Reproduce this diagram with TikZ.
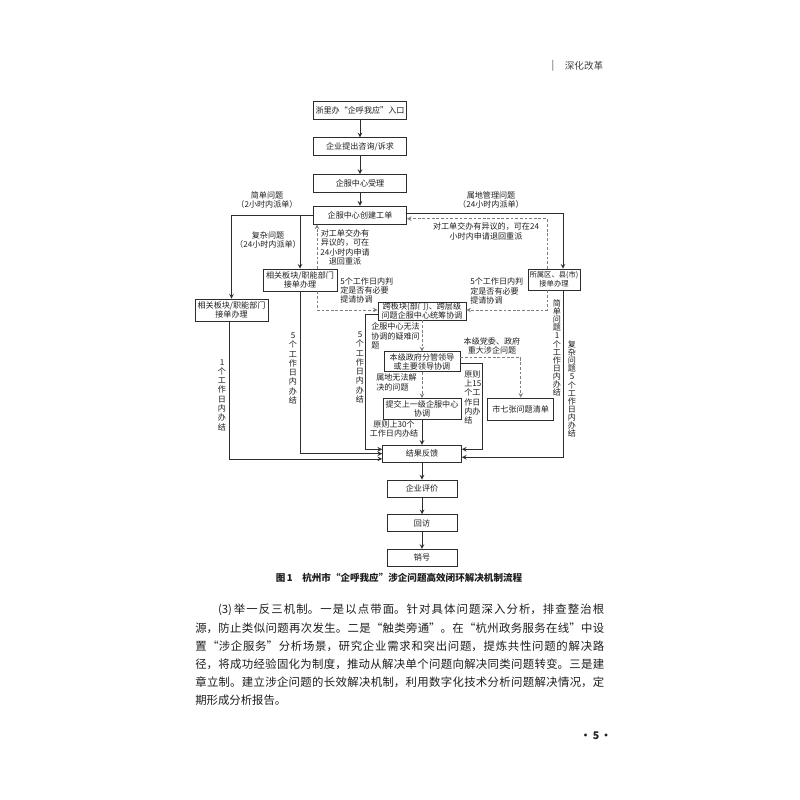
\documentclass[tikz,border=0pt]{standalone}
\usepackage{fontspec}
\setmainfont{Noto Sans CJK SC}
\usetikzlibrary{positioning}
\usepackage{xcolor}
\definecolor{linegray}{RGB}{45,45,45}
\definecolor{dashgray}{RGB}{125,125,125}
\definecolor{inkblack}{RGB}{30,30,30}
\XeTeXlinebreaklocale "zh"
\XeTeXlinebreakskip=0pt plus 1pt
\newcommand\flowfont{\fontsize{5.75pt}{6.6pt}\selectfont}
\newcommand\vertfont{\fontsize{5.75pt}{5.8pt}\selectfont}
\newcommand\bodyfont{\fontsize{8.1pt}{12.95pt}\selectfont}

\begin{document}
\begin{tikzpicture}[
    x=0.25mm, y=-0.25mm,
    box/.style={rectangle, draw=linegray, fill=white, line width=0.5pt,
                inner sep=0.5pt, align=center, font=\flowfont, text=inkblack},
    mainbox/.style={box, minimum width=23.25mm, minimum height=4.5mm},
    arrow/.style={->, >=stealth, line width=0.5pt, draw=linegray},
    dasharrow/.style={->, >=stealth, line width=0.5pt, draw=dashgray,
                      dash pattern=on 2pt off 1.3pt},
    note/.style={font=\flowfont, align=center, inner sep=0pt, text=inkblack},
    vnote/.style={note, font=\vertfont}
]
\useasboundingbox (0,0) rectangle (800,800);

% page head
\node[note, font=\fontsize{7pt}{8pt}\selectfont, text=black!70] (headbar) at (553,66) {|};
\node[note, font=\fontsize{6.8pt}{8pt}\selectfont, text=black!75] (headtitle) at (584,66) {深化改革};

% main column
\node[mainbox] (entry) at (360,110) {浙里办“企呼我应”入口};
\node[mainbox, below=4.5mm of entry] (ask) {企业提出咨询/诉求};
\node[mainbox, below=4.5mm of ask] (accept) {企服中心受理};
\node[mainbox, below=3.25mm of accept] (order) {企服中心创建工单};

\node[box, minimum width=18.25mm, minimum height=5.5mm] (deptB) at (231.5,310) {相关板块/职能部门\\接单办理};
\node[box, minimum width=18.5mm, minimum height=5.5mm] (deptA) at (300,280) {相关板块/职能部门\\接单办理};
\node[box, minimum width=13mm, minimum height=5.25mm, font=\fontsize{5.2pt}{6.6pt}\selectfont] (county) at (554,279.5) {所属区、县(市)\\接单办理};

\node[box, minimum width=22mm, minimum height=4.5mm] (cross) at (422,311) {跨板块(部门)、跨层级\\问题企服中心统筹协调};
\node[box, minimum width=19mm, minimum height=5mm, below=7.75mm of cross] (gov) {本级政府分管领导\\或主要领导协调};
\node[box, minimum width=19.5mm, minimum height=5.25mm, below=6.5mm of gov] (upper) {提交上一级企服中心\\协调};
\node[box, minimum width=16.5mm, minimum height=5.5mm, right=6.5mm of upper] (seven) {市七张问题清单};
\node[box, minimum width=19.75mm, minimum height=4.25mm, below=6.25mm of upper] (result) {结果反馈};
\node[box, minimum width=17.5mm, minimum height=4.25mm, below=4.25mm of result] (rate) {企业评价};
\node[box, minimum width=17.5mm, minimum height=4.25mm, below=4.25mm of rate] (revisit) {回访};
\node[box, minimum width=17.5mm, minimum height=4.25mm, below=4.25mm of revisit] (close) {销号};

% labels
\node[note] (lsimple) at (267,200) {简单问题\\（2小时内派单）};
\node[note] (llocal) at (491,200) {属地管理问题\\（24小时内派单）};
\node[note] (lcomplex) at (268,240) {复杂问题\\（24小时内派单）};
\node[note] (lobjA) at (345,247.5) {对工单交办有\\异议的，可在\\24小时内申请\\退回重派};
\node[note] (lobjB) at (486,231.5) {对工单交办有异议的，可在24\\小时内申请退回重派};
\node[note, anchor=west, align=left] (ljudgeA) at (340,290.5) {5个工作日内判\\定是否有必要\\提请协调};
\node[note, anchor=west, align=left] (ljudgeB) at (470,291) {5个工作日内判\\定是否有必要\\提请协调};
\node[note, anchor=west, align=left] (lhard) at (371,336) {企服中心无法\\协调的疑难问\\题};
\node[note, anchor=west, align=left] (lunable) at (376,382.5) {属地无法解\\决的问题};
\node[note] (l30) at (394,429) {原则上30个\\工作日内办结};
\node[note] (lmajor) at (492,346) {本级党委、政府\\重大涉企问题};
\node[note, anchor=west, align=left] (l15) at (464,397.5) {原则\\上15\\个工\\作日\\内办\\结};
\node[note] (lday1) at (222,395) {1\\个\\工\\作\\日\\内\\办\\结};
\node[note] (lday5a) at (293,368.5) {5\\个\\工\\作\\日\\内\\办\\结};
\node[note] (lday5b) at (360,367.5) {5\\个\\工\\作\\日\\内\\办\\结};
\node[vnote] (lsday1) at (557,348) {简\\单\\问\\题\\1\\个\\工\\作\\日\\内\\办\\结};
\node[vnote] (lcday5) at (572,389) {复\\杂\\问\\题\\5\\个\\工\\作\\日\\内\\办\\结};

% main flow
\draw[arrow] (entry) -- (ask);
\draw[arrow] (ask) -- (accept);
\draw[arrow] (accept) -- (order);
\draw[arrow] (order.west) -| (deptB.north);
\draw[arrow] (order.west) -| (deptA.north);
\draw[arrow] ([yshift=0.4mm]order.east) -| ([xshift=2.25mm]county.north);

% objections and escalation (dashed)
\draw[dasharrow] ([xshift=4.25mm]deptA.north) -- ([xshift=4.25mm]deptA.north |- order.south);
\draw[dasharrow] ([xshift=-1.75mm]county.north) |- ([yshift=-0.9mm]order.east);
\draw[dasharrow] ([xshift=4.25mm]deptA.south) |- ([yshift=0.25mm]cross.west);
\draw[dasharrow] ([xshift=-1.75mm]county.south) |- ([yshift=0.25mm]cross.east);
\draw[dasharrow] (cross) -- (gov);
\draw[dasharrow] (gov) -- (upper);
\draw[dasharrow] ([yshift=1mm]gov.east) -| (seven.north);

% back to result
\draw[arrow] (upper) -- (result);
\draw[arrow] ([yshift=-0.75mm]cross.west) -- ++(-3mm,0) |- ([yshift=1.1mm]result.west);
\draw[arrow] (deptA.south) |- (result.west);
\draw[arrow] ([xshift=-0.6mm]deptB.south) |- ([yshift=-1.3mm]result.west);
\draw[arrow] ([yshift=-0.3mm]gov.east) -- ++(5.5mm,0) |- ([yshift=1.1mm]result.east);
\draw[arrow] ([xshift=2.25mm]county.south) |- ([yshift=-0.9mm]result.east);
\draw[arrow] (result) -- (rate);
\draw[arrow] (rate) -- (revisit);
\draw[arrow] (revisit) -- (close);

% caption and text
\node[note, font=\fontsize{6.8pt}{8pt}\selectfont\bfseries] (caption) at (399,578)
    {图\,1\quad 杭州市“企呼我应”涉企问题高效闭环解决机制流程};
\node[anchor=north west, inner sep=0pt, text width=102.25mm, align=justify,
      font=\bodyfont, text=inkblack] (body) at (195,604)
    {\hspace*{2em}(3)\,举一反三机制。一是以点带面。针对具体问题深入分析，排查整治根\linebreak
     源，防止类似问题再次发生。二是“触类旁通”。在“杭州政务服务在线”中设\linebreak
     置“涉企服务”分析场景，研究企业需求和突出问题，提炼共性问题的解决路\linebreak
     径，将成功经验固化为制度，推动从解决单个问题向解决同类问题转变。三是建\linebreak
     章立制。建立涉企问题的长效解决机制，利用数字化技术分析问题解决情况，定\linebreak
     期形成分析报告。};
\node[note, font=\fontsize{7.5pt}{8pt}\selectfont\bfseries] (pageno) at (596,736) {·\,5\,·};

\end{tikzpicture}
\end{document}
